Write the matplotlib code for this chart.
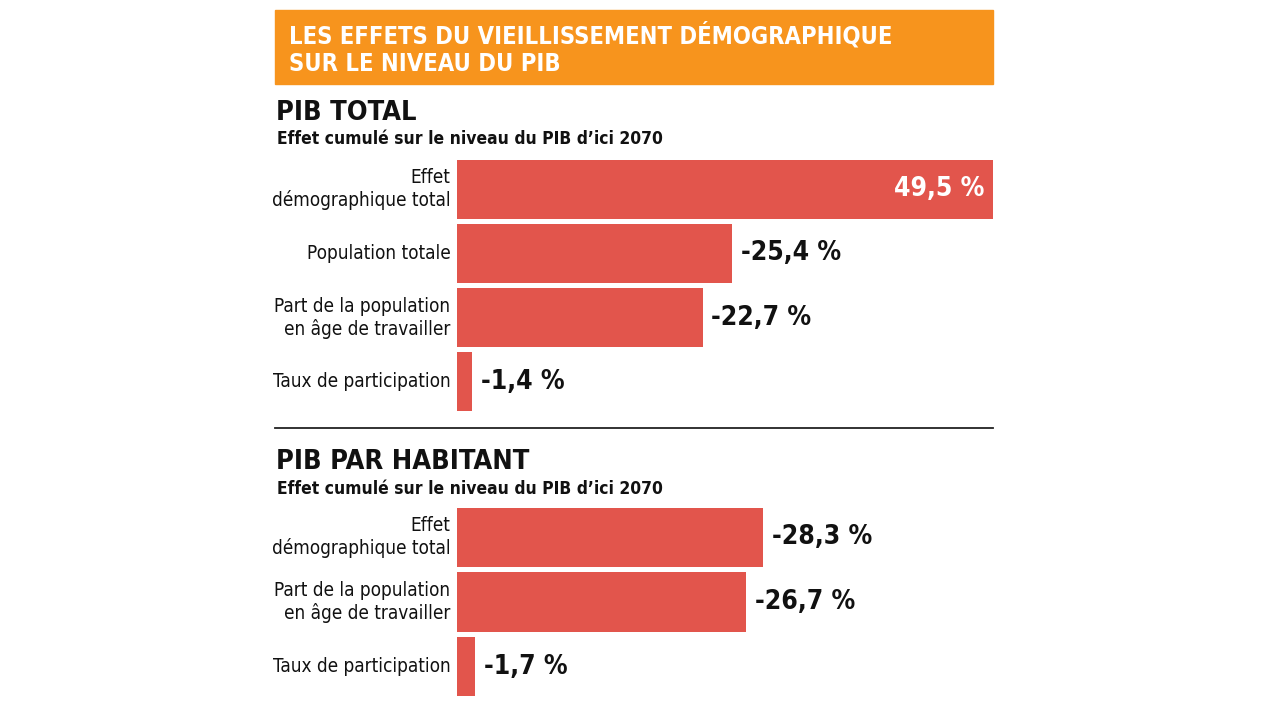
import matplotlib
matplotlib.use("Agg")
import matplotlib.pyplot as plt

# data
total_labels = ["Effet\ndémographique total", "Population totale",
                "Part de la population\nen âge de travailler", "Taux de participation"]
total_values = [49.5, -25.4, -22.7, -1.4]
hab_labels = ["Effet\ndémographique total",
              "Part de la population\nen âge de travailler", "Taux de participation"]
hab_values = [-28.3, -26.7, -1.7]

title = "LES EFFETS DU VIEILLISSEMENT DÉMOGRAPHIQUE\nSUR LE NIVEAU DU PIB"
sub = "Effet cumulé sur le niveau du PIB d’ici 2070"

plt.rcParams['font.family'] = ['DejaVu Sans']
plt.rcParams['font.stretch'] = 'condensed'

ORANGE = "#F7941D"
RED = "#E2554C"
W, H = 1280, 720
XMAX = 49.5


def fx(px):
    return px / W


def fy(py):
    return 1 - py / H


fig = plt.figure(figsize=(12.8, 7.2), dpi=100)
fig.patch.set_facecolor("white")

# header box
fig.patches.append(plt.Rectangle((fx(275), fy(84)), fx(993) - fx(275), (84 - 10) / H,
                                 transform=fig.transFigure, color=ORANGE, zorder=0))
fig.text(fx(289), fy(49), title, color="white", fontsize=17, fontweight="bold",
         va="center", ha="left", linespacing=1.2)


def section(top_px, bot_px, labels, values, head, head_y, sub_y):
    fig.text(fx(276), fy(head_y), head, fontsize=19.5, fontweight="bold", color="#111111",
             va="center", ha="left")
    fig.text(fx(277), fy(sub_y), sub, fontsize=12.5, fontweight="bold", color="#111111",
             va="center", ha="left")
    ax = fig.add_axes([fx(457), fy(bot_px), fx(993) - fx(457), (bot_px - top_px) / H])
    n = len(values)
    ys = list(range(n))
    widths = [abs(v) for v in values]
    ax.barh(ys, widths, height=0.92, color=RED, left=0)
    ax.set_xlim(0, XMAX)
    ax.set_ylim(n - 0.5, -0.5)
    ax.axis("off")
    for y, lab, v in zip(ys, labels, values):
        ax.text(-0.6, y, lab, ha="right", va="center", fontsize=13.6, color="#111111",
                linespacing=1.2)
        txt = ("%.1f %%" % v).replace(".", ",")
        if v > 0:
            ax.text(abs(v) - 0.8, y, txt, ha="right", va="center", fontsize=19,
                    fontweight="bold", color="white")
        else:
            ax.text(abs(v) + 0.8, y, txt, ha="left", va="center", fontsize=19,
                    fontweight="bold", color="#111111")
    return ax


section(157, 414, total_labels, total_values, "PIB TOTAL", 113, 139)
fig.add_artist(plt.Line2D([fx(275), fx(993)], [fy(428), fy(428)], color="#222222", lw=1.3,
                          transform=fig.transFigure))
section(505, 699, hab_labels, hab_values, "PIB PAR HABITANT", 462, 489)

fig.savefig("out.png", dpi=100)
